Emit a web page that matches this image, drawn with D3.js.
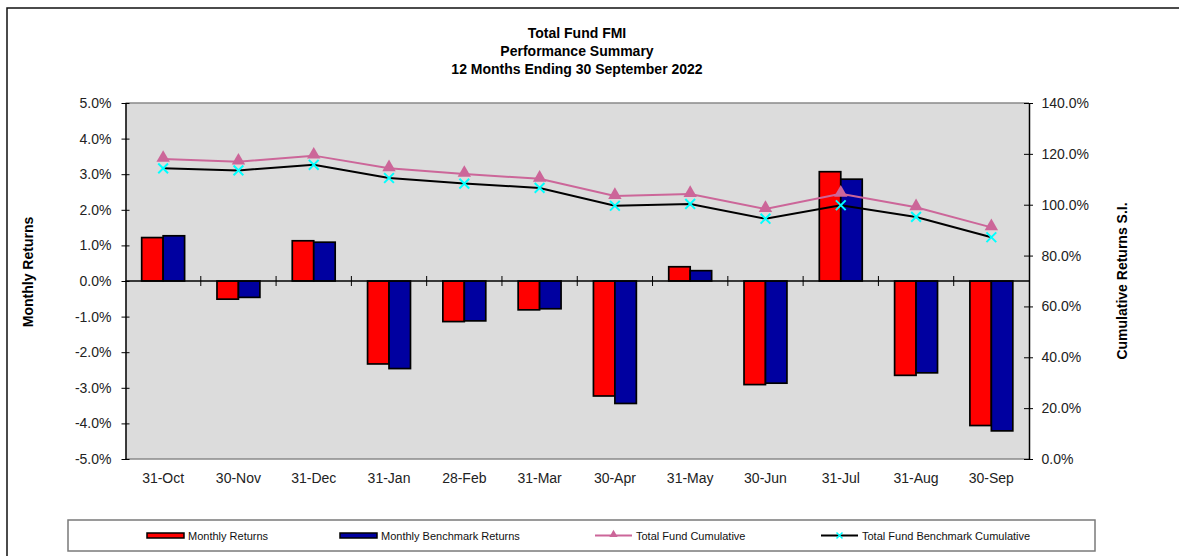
<!DOCTYPE html>
<html>
<head>
<meta charset="utf-8">
<script src="https://cdn.jsdelivr.net/npm/d3@7"></script>
<style>
  body { margin: 0; background: #fff; }
  text { font-family: Arial, "Liberation Sans", sans-serif; }
</style>
</head>
<body>
<div class="chart"></div>
<script>
// data
var months = ["31-Oct", "30-Nov", "31-Dec", "31-Jan", "28-Feb", "31-Mar",
              "30-Apr", "31-May", "30-Jun", "31-Jul", "31-Aug", "30-Sep"];
var monthlyReturns   = [1.22, -0.51, 1.13, -2.33, -1.14, -0.81, -3.23, 0.40, -2.91, 3.07, -2.65, -4.06];
var benchmarkReturns = [1.27, -0.46, 1.09, -2.46, -1.12, -0.78, -3.44, 0.29, -2.87, 2.86, -2.58, -4.21];
var fundCumulative      = [118.0, 116.9, 119.3, 114.3, 112.1, 110.2, 103.4, 104.2, 98.3, 104.3, 99.0, 91.1];
var benchmarkCumulative = [114.3, 113.5, 115.7, 110.5, 108.3, 106.6, 99.6, 100.3, 94.5, 99.8, 95.2, 87.2];
var leftTicks  = [-5, -4, -3, -2, -1, 0, 1, 2, 3, 4, 5];
var rightTicks = [0, 20, 40, 60, 80, 100, 120, 140];
var titleLines = ["Total Fund FMI", "Performance Summary", "12 Months Ending 30 September 2022"];
var legendNames = ["Monthly Returns", "Monthly Benchmark Returns", "Total Fund Cumulative", "Total Fund Benchmark Cumulative"];

var svgWidth = 1179;
var svgHeight = 556;

var plot = { left: 125.5, right: 1029, top: 103, bottom: 459 };

var svg = d3.select(".chart")
  .append("svg")
  .attr("width", svgWidth)
  .attr("height", svgHeight);

// outer border (runs off the right and bottom edges)
svg.append("rect")
  .attr("x", 7).attr("y", 8)
  .attr("width", 1200).attr("height", 600)
  .attr("fill", "none").attr("stroke", "#111").attr("stroke-width", 1.5);

// scales
var x0 = d3.scaleBand().domain(months).range([plot.left, plot.right]).padding(0);
var groupW = x0.step() * 0.57;
var x1 = d3.scaleBand().domain(["fund", "bench"]).range([0, groupW]).padding(0);
var yL = d3.scaleLinear().domain([-5, 5]).range([plot.bottom, plot.top]);
var yR = d3.scaleLinear().domain([0, 140]).range([plot.bottom, plot.top]);

// plot background
svg.append("rect")
  .attr("x", plot.left).attr("y", plot.top)
  .attr("width", plot.right - plot.left).attr("height", plot.bottom - plot.top)
  .attr("fill", "#dcdcdc");
svg.append("line")
  .attr("x1", plot.left).attr("x2", plot.right)
  .attr("y1", plot.top).attr("y2", plot.top)
  .attr("stroke", "#8a8a8a").attr("stroke-width", 1.5);
svg.append("line")
  .attr("x1", plot.left).attr("x2", plot.right)
  .attr("y1", plot.bottom).attr("y2", plot.bottom)
  .attr("stroke", "#8a8a8a").attr("stroke-width", 1.5);

// title
svg.append("g").selectAll("text")
  .data(titleLines)
  .enter()
  .append("text")
  .attr("x", 577)
  .attr("y", (d, i) => 38 + i * 18)
  .attr("text-anchor", "middle")
  .style("font-size", "14px")
  .style("font-weight", "bold")
  .attr("fill", "#000")
  .text(d => d);

// bars
var rows = months.map((m, i) => ({ m: m, fund: monthlyReturns[i], bench: benchmarkReturns[i] }));
var barColors = { fund: "#ff0000", bench: "#0000a0" };

var groups = svg.append("g").selectAll("g")
  .data(rows)
  .enter()
  .append("g")
  .attr("transform", d => `translate(${x0(d.m) + (x0.bandwidth() - groupW) / 2}, 0)`);

groups.selectAll("rect")
  .data(d => ["fund", "bench"].map(k => ({ k: k, v: d[k] })))
  .enter()
  .append("rect")
  .attr("x", d => x1(d.k))
  .attr("y", d => yL(Math.max(0, d.v)))
  .attr("width", x1.bandwidth())
  .attr("height", d => Math.abs(yL(d.v) - yL(0)))
  .attr("fill", d => barColors[d.k])
  .attr("stroke", "#000")
  .attr("stroke-width", 1.7);

// zero line with category ticks
svg.append("line")
  .attr("x1", plot.left).attr("x2", plot.right)
  .attr("y1", yL(0)).attr("y2", yL(0))
  .attr("stroke", "#000").attr("stroke-width", 1.3);
svg.append("g").selectAll("line")
  .data(months.slice(1))
  .enter()
  .append("line")
  .attr("x1", d => x0(d)).attr("x2", d => x0(d))
  .attr("y1", yL(0) - 5).attr("y2", yL(0) + 5)
  .attr("stroke", "#000").attr("stroke-width", 1);

// left axis
var leftAxis = d3.axisLeft(yL)
  .tickValues(leftTicks)
  .tickSizeInner(4).tickSizeOuter(0).tickPadding(10)
  .tickFormat(d => d.toFixed(1) + "%");
var gl = svg.append("g")
  .attr("transform", `translate(${plot.left}, 0)`)
  .call(leftAxis);
gl.select(".domain").attr("stroke", "#000").attr("stroke-width", 1.5);
gl.selectAll(".tick line").attr("x1", 4).attr("x2", -4).attr("stroke", "#000");
gl.selectAll(".tick text")
  .style("font-size", "14px").attr("fill", "#222")
  .style("font-family", "Arial, 'Liberation Sans', sans-serif");

// right axis
var rightAxis = d3.axisRight(yR)
  .tickValues(rightTicks)
  .tickSizeInner(4).tickSizeOuter(0).tickPadding(8.5)
  .tickFormat(d => d.toFixed(1) + "%");
var gr = svg.append("g")
  .attr("transform", `translate(${plot.right}, 0)`)
  .call(rightAxis);
gr.select(".domain").attr("stroke", "#000").attr("stroke-width", 1.5);
gr.selectAll(".tick line").attr("x1", -5).attr("x2", 4).attr("stroke", "#000");
gr.selectAll(".tick text")
  .style("font-size", "14px").attr("fill", "#222")
  .style("font-family", "Arial, 'Liberation Sans', sans-serif");

// x labels
svg.append("g").selectAll("text")
  .data(months)
  .enter()
  .append("text")
  .attr("x", d => x0(d) + x0.bandwidth() / 2)
  .attr("y", 483)
  .attr("text-anchor", "middle")
  .style("font-size", "14px")
  .attr("fill", "#222")
  .text(d => d);

// axis titles
svg.append("text")
  .attr("transform", "translate(33, 272) rotate(-90)")
  .attr("text-anchor", "middle")
  .style("font-size", "14px").style("font-weight", "bold")
  .text("Monthly Returns");
svg.append("text")
  .attr("transform", "translate(1127, 281) rotate(-90)")
  .attr("text-anchor", "middle")
  .style("font-size", "14px").style("font-weight", "bold")
  .text("Cumulative Returns S.I.");

// cumulative lines
var cx = d => x0(d) + x0.bandwidth() / 2;
var fundLine = d3.line().x((d, i) => cx(months[i])).y(d => yR(d));

svg.append("path")
  .datum(benchmarkCumulative)
  .attr("d", fundLine)
  .attr("fill", "none").attr("stroke", "#000").attr("stroke-width", 2);
svg.append("path")
  .datum(fundCumulative)
  .attr("d", fundLine)
  .attr("fill", "none").attr("stroke", "#cc6699").attr("stroke-width", 2);

var tri = d3.symbol().type(d3.symbolTriangle).size(78);
var cross = d3.symbol().type(d3.symbolX).size(64);

svg.append("g").selectAll("path")
  .data(fundCumulative)
  .enter()
  .append("path")
  .attr("d", tri)
  .attr("transform", (d, i) => `translate(${cx(months[i])}, ${yR(d) - 1})`)
  .attr("fill", "#cc6699");
svg.append("g").selectAll("path")
  .data(benchmarkCumulative)
  .enter()
  .append("path")
  .attr("d", cross)
  .attr("transform", (d, i) => `translate(${cx(months[i])}, ${yR(d)})`)
  .attr("fill", "none").attr("stroke", "#00ffff").attr("stroke-width", 2);

// legend
var legend = svg.append("g");
legend.append("rect")
  .attr("x", 68).attr("y", 520).attr("width", 1027).attr("height", 31)
  .attr("fill", "#fff").attr("stroke", "#7a7a7a").attr("stroke-width", 1.5);

var legendX = [147, 340, 595, 821];
var ly = 535.5;

legend.append("rect")
  .attr("x", legendX[0]).attr("y", ly - 2.5).attr("width", 37).attr("height", 5)
  .attr("fill", barColors.fund).attr("stroke", "#000").attr("stroke-width", 1.5);
legend.append("rect")
  .attr("x", legendX[1]).attr("y", ly - 2.5).attr("width", 37).attr("height", 5)
  .attr("fill", barColors.bench).attr("stroke", "#000").attr("stroke-width", 1.5);
legend.append("line")
  .attr("x1", legendX[2]).attr("x2", legendX[2] + 37).attr("y1", ly).attr("y2", ly)
  .attr("stroke", "#cc6699").attr("stroke-width", 2);
legend.append("path")
  .attr("d", d3.symbol().type(d3.symbolTriangle).size(30))
  .attr("transform", `translate(${legendX[2] + 18.5}, ${ly - 1})`)
  .attr("fill", "#cc6699");
legend.append("line")
  .attr("x1", legendX[3]).attr("x2", legendX[3] + 37).attr("y1", ly).attr("y2", ly)
  .attr("stroke", "#000").attr("stroke-width", 2);
legend.append("path")
  .attr("d", d3.symbol().type(d3.symbolX).size(25))
  .attr("transform", `translate(${legendX[3] + 18.5}, ${ly})`)
  .attr("fill", "none").attr("stroke", "#00ffff").attr("stroke-width", 1.5);

legend.selectAll("text.lab")
  .data(legendNames)
  .enter()
  .append("text")
  .attr("class", "lab")
  .attr("x", (d, i) => legendX[i] + 41)
  .attr("y", ly + 4)
  .style("font-size", "11px")
  .attr("fill", "#111")
  .text(d => d);
</script>
</body>
</html>
